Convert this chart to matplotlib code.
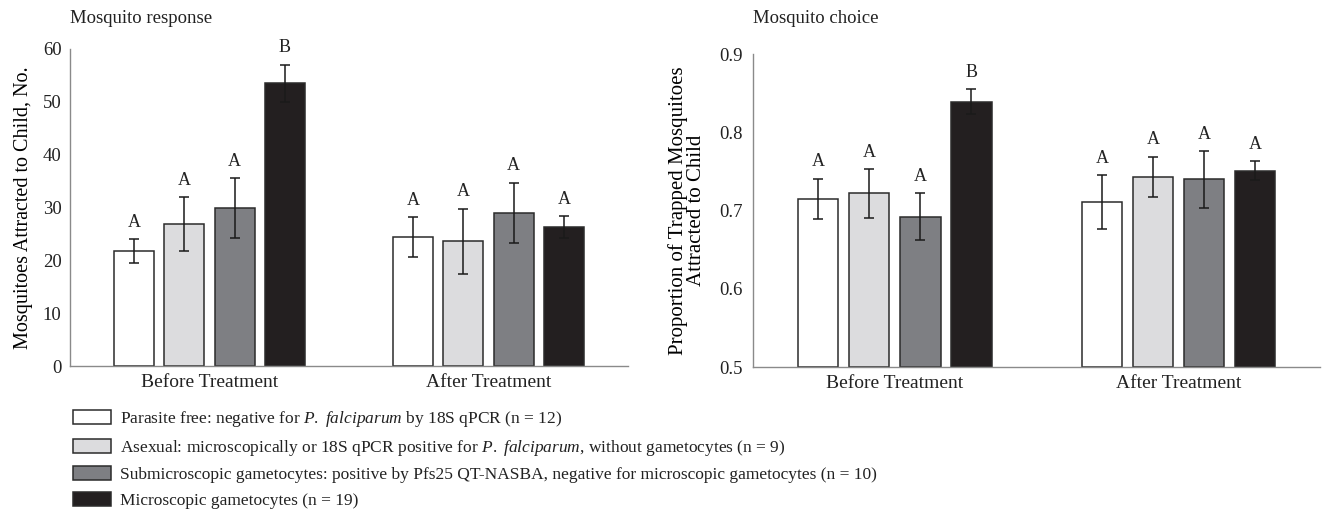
import numpy as np
import matplotlib
matplotlib.use("Agg")
import matplotlib.pyplot as plt

plt.rcParams['font.family'] = ['Liberation Serif', 'DejaVu Serif']
plt.rcParams['mathtext.fontset'] = 'custom'
plt.rcParams['mathtext.it'] = 'Liberation Serif:italic'
plt.rcParams['mathtext.rm'] = 'Liberation Serif'
plt.rcParams['text.color'] = '#222222'

# dane
okresy = ["Before Treatment", "After Treatment"]
grupy = [
    "Parasite free: negative for $\\it{P.}$ $\\it{falciparum}$ by 18S qPCR (n = 12)",
    "Asexual: microscopically or 18S qPCR positive for $\\it{P.}$ $\\it{falciparum}$, without gametocytes (n = 9)",
    "Submicroscopic gametocytes: positive by Pfs25 QT-NASBA, negative for microscopic gametocytes (n = 10)",
    "Microscopic gametocytes (n = 19)",
]
kolory = ["#ffffff", "#dcdcde", "#7e7f83", "#231f20"]

# liczba komarow (przed, po) dla kazdej grupy
odp_sr = [[21.7, 24.4], [26.8, 23.6], [29.9, 29.0], [53.5, 26.3]]
odp_err = [[2.3, 3.8], [5.1, 6.2], [5.7, 5.7], [3.5, 2.0]]
odp_lit = [["A", "A"], ["A", "A"], ["A", "A"], ["B", "A"]]

# proporcja komarow
wyb_sr = [[0.715, 0.711], [0.722, 0.743], [0.692, 0.740], [0.839, 0.751]]
wyb_err = [[0.026, 0.034], [0.031, 0.026], [0.030, 0.036], [0.016, 0.012]]
wyb_lit = [["A", "A"], ["A", "A"], ["A", "A"], ["B", "A"]]

fig = plt.figure(figsize=(13.23, 5.32), dpi=100)
ax1 = fig.add_axes([0.0529, 0.312, 0.4218, 0.596])
ax2 = fig.add_axes([0.569, 0.310, 0.429, 0.588])

x = np.arange(len(okresy))
szer = 0.143
krok = 0.18


def rysuj(ax, sr, err, lit, dol, ypad):
    slupki = []
    for i in range(4):
        pos = x + (i - 1.5) * krok
        b = ax.bar(pos, np.array(sr[i]) - dol, szer, bottom=dol, color=kolory[i],
                   edgecolor="#2b2b2b", linewidth=1.1, label=grupy[i], zorder=2)
        ax.errorbar(pos, sr[i], yerr=err[i], fmt="none", ecolor="#1a1a1a",
                    elinewidth=1.1, capsize=3.5, capthick=1.1, zorder=3)
        for p, s, e, l in zip(pos, sr[i], err[i], lit[i]):
            ax.annotate(l, (p, s + e), xytext=(0, 6), textcoords="offset points",
                        ha="center", va="bottom", fontsize=13)
        slupki.append(b)
    ax.set_xlim(-0.5, 1.5)
    ax.set_xticks(x)
    ax.set_xticklabels(okresy, fontsize=14)
    for s in ["top", "right"]:
        ax.spines[s].set_visible(False)
    for s in ["left", "bottom"]:
        ax.spines[s].set_color("#8a8a8a")
        ax.spines[s].set_linewidth(1.0)
    ax.tick_params(length=0, labelsize=13.5, labelcolor="#222222")
    ax.tick_params(axis="y", pad=ypad)
    ax.tick_params(axis="x", pad=6, labelsize=14)
    return slupki


slupki = rysuj(ax1, odp_sr, odp_err, odp_lit, 0, 6)
ax1.set_ylim(0, 60)
ax1.set_yticks(range(0, 61, 10))
ax1.set_ylabel("Mosquitoes Attracted to Child, No.", fontsize=14.5, labelpad=7)

rysuj(ax2, wyb_sr, wyb_err, wyb_lit, 0.5, 7)
ax2.set_ylim(0.5, 0.9)
ax2.set_yticks([0.5, 0.6, 0.7, 0.8, 0.9])
ax2.set_yticklabels(["0.5", "0.6", "0.7", "0.8", "0.9"])
ax2.set_ylabel("Proportion of Trapped Mosquitoes\nAttracted to Child", fontsize=15,
               labelpad=10, linespacing=0.9)

fig.text(0.053, 0.966, "Mosquito response", fontsize=13.5, va="center")
fig.text(0.569, 0.966, "Mosquito choice", fontsize=13.5, va="center")

fig.legend(handles=slupki, loc="upper left", bbox_to_anchor=(0.055, 0.231),
           frameon=False, fontsize=12.5, handlelength=2.2, handleheight=0.85,
           labelspacing=0.5, handletextpad=0.5, borderaxespad=0, borderpad=0)

fig.savefig("out.png", dpi=100)
